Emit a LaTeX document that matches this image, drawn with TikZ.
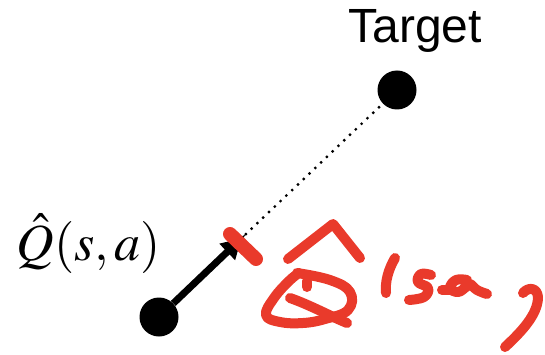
\documentclass[tikz,border=0pt]{standalone}
\usepackage{mathptmx}
\usepackage{fontspec}
\newfontfamily\labelsans{Liberation Sans}
\usepackage{xcolor}
\usepackage{tikz}
\usetikzlibrary{arrows.meta,positioning}
\definecolor{penred}{HTML}{E93A2B}
\tikzset{%
  valdot/.style={%
    circle,
    fill=black,
    inner sep=0pt,
    minimum size=39pt
  },
  targettext/.style={%
    anchor=base,
    inner sep=0pt,
    font=\labelsans\fontsize{48}{54}\selectfont
  },
  qtext/.style={%
    anchor=base,
    inner sep=0pt,
    font=\fontsize{52}{58}\selectfont
  },
  valarrow/.style={-{Latex[length=26pt,width=24pt]},line width=7pt},
  valdotted/.style={line width=3.2pt,line cap=round,dash pattern=on 0pt off 8pt},
  penstroke/.style={draw=penred,line width=10pt,line cap=round,line join=round}
}
\begin{document}
\begin{tikzpicture}[x=1pt,y=-1pt]
    \useasboundingbox (0,0) rectangle (545,355);
    \node[valdot] (estimate) at (159,317) {};
    \node[valdot] (target) at (397,90) {};
    \node[targettext] (targetlabel) at (415,43) {Target};
    \node[qtext] (qlabel) at (89,260) {$\hat{Q}(s,a)$};
    \coordinate (tip) at (246,234);

    \draw[valdotted] (estimate.center) -- (target.center);
    \draw[valarrow] (estimate) -- (tip);

    % handwritten note
    \draw[penstroke,line width=14pt] (230,234) -- (256,259);
    \draw[penstroke] (288,259) -- (333,224) -- (360,258);
    \draw[penstroke] plot[smooth,tension=0.7] coordinates {(297,273) (330,280) (350,292) (348,310) (325,319) (303,323) (280,322) (266,315) (274,298) (289,281) (299,273)};
    \draw[penstroke] (307,281) -- (307,287);
    \draw[penstroke] (290,298) .. controls (310,305) and (330,316) .. (347,323);
    \draw[penstroke] (395,258) .. controls (388,270) and (385,282) .. (386,293);
    \draw[penstroke] plot[smooth,tension=0.7] coordinates {(431,275) (421,274) (418,282) (428,288) (424,297) (409,300)};
    \draw[penstroke] (442,290) -- (452,290);
    \draw[penstroke] plot[smooth,tension=0.7] coordinates {(467,280) (456,280) (450,288) (458,292) (466,287) (470,284) (477,290) (487,294)};
    \draw[penstroke] (523,293) .. controls (528,287) and (537,287) .. (538,297) .. controls (538,315) and (520,333) .. (505,347);
\end{tikzpicture}
\end{document}
